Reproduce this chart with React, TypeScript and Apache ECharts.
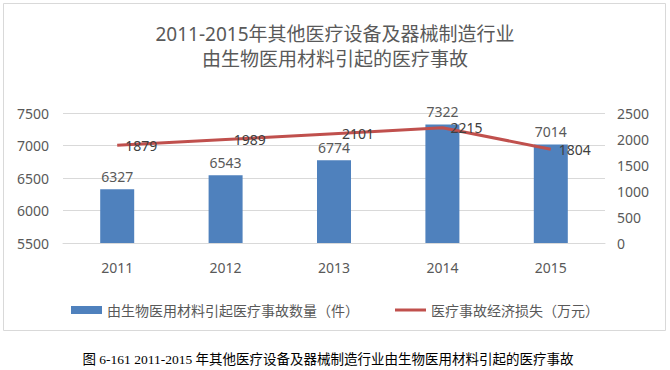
import React, { useEffect, useRef } from "react";
import * as echarts from "echarts";

const years = ["2011", "2012", "2013", "2014", "2015"];
const accidentCounts = [6327, 6543, 6774, 7322, 7014];
const economicLoss = [1879, 1989, 2101, 2215, 1804];
const seriesNames = ["由生物医用材料引起医疗事故数量（件）", "医疗事故经济损失（万元）"];
const titleText = "2011-2015年其他医疗设备及器械制造行业\n由生物医用材料引起的医疗事故";
const captionText = "图 6-161 2011-2015 年其他医疗设备及器械制造行业由生物医用材料引起的医疗事故";

const FONT = "'Noto Sans', 'Noto Sans CJK SC', sans-serif";
const GRAY = "#595959";

export default function App() {
  const ref = useRef<HTMLDivElement>(null);
  useEffect(() => {
    if (!ref.current) return;
    const chart = echarts.init(ref.current, null, { renderer: "svg" });
    chart.setOption({
      animation: false,
      backgroundColor: "#ffffff",
      textStyle: { fontFamily: FONT },
      title: {
        text: titleText,
        left: "center",
        top: 16,
        textStyle: { fontSize: 19, fontWeight: "normal", color: GRAY, lineHeight: 25, fontFamily: FONT },
      },
      legend: {
        top: 298,
        left: "center",
        itemWidth: 31,
        itemHeight: 8,
        itemGap: 36,
        textStyle: { fontSize: 14, color: GRAY, fontFamily: FONT },
        data: [
          { name: seriesNames[0], icon: "rect" },
          { name: seriesNames[1], icon: "path://M0,0 L31,0 L31,3 L0,3 Z" },
        ],
      },
      grid: { left: 63, right: 65, top: 113, bottom: 127 },
      xAxis: {
        type: "category",
        data: years,
        axisLine: { show: true, lineStyle: { color: "#D9D9D9" } },
        axisTick: { show: false },
        axisLabel: { color: GRAY, fontSize: 14, margin: 17 },
      },
      yAxis: [
        {
          type: "value",
          min: 5500,
          max: 7500,
          interval: 500,
          axisLine: { show: false },
          axisTick: { show: false },
          splitLine: { lineStyle: { color: "#D9D9D9" } },
          axisLabel: { color: GRAY, fontSize: 14, margin: 14, formatter: (v: number) => String(v) },
        },
        {
          type: "value",
          min: 0,
          max: 2500,
          interval: 500,
          axisLine: { show: false },
          axisTick: { show: false },
          splitLine: { show: false },
          axisLabel: { color: GRAY, fontSize: 14, margin: 12, formatter: (v: number) => String(v) },
        },
      ],
      series: [
        {
          name: seriesNames[0],
          type: "bar",
          yAxisIndex: 0,
          data: accidentCounts,
          barWidth: 34,
          itemStyle: { color: "#4F81BD" },
          label: { show: true, position: "top", color: GRAY, fontSize: 14, distance: 6 },
        },
        {
          name: seriesNames[1],
          type: "line",
          yAxisIndex: 1,
          data: economicLoss,
          symbol: "circle",
          symbolSize: 0.1,
          showSymbol: true,
          lineStyle: { color: "#C0504D", width: 3 },
          itemStyle: { color: "#C0504D" },
          label: { show: true, position: "right", color: "#404040", fontSize: 14, distance: 8 },
          z: 3,
        },
      ],
      graphic: [
        {
          type: "rect",
          shape: { x: 3.5, y: 3.5, width: 662, height: 327 },
          style: { fill: "none", stroke: "#D9D9D9", lineWidth: 1 },
          silent: true,
        },
        {
          type: "text",
          x: 328,
          y: 359,
          style: {
            text: captionText,
            fontSize: 13.5,
            fontFamily: "'Liberation Serif', 'Noto Sans CJK SC', serif",
            fill: "#000000",
            align: "center",
            verticalAlign: "middle",
          },
        },
      ],
    });
    return () => chart.dispose();
  }, []);
  return (
    <div
      ref={ref}
      style={{ position: "absolute", left: 0, top: 0, width: 670, height: 370 }}
    />
  );
}
